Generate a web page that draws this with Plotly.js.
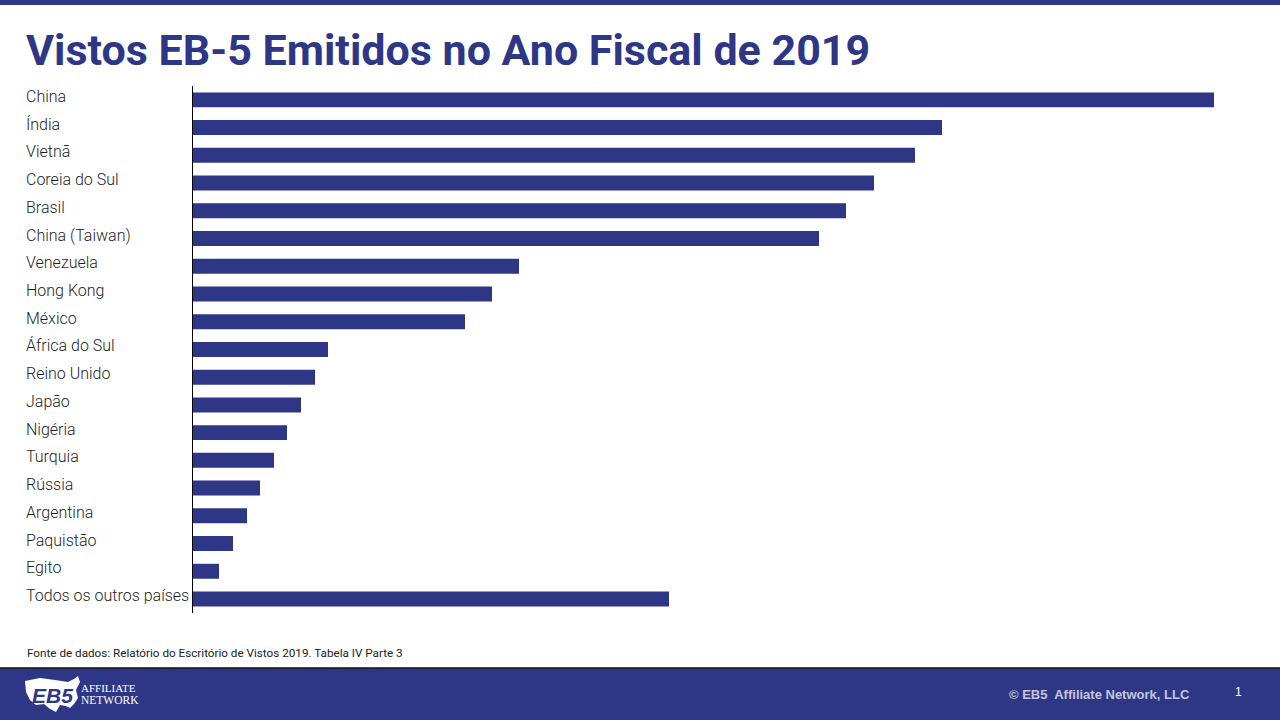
<!DOCTYPE html>
<html>
<head>
<meta charset="utf-8">
<script src="https://cdn.plot.ly/plotly-3.0.1.min.js"></script>
<style>
html,body{margin:0;padding:0;background:#fff;}
#chart{width:1280px;height:720px;}
</style>
</head>
<body>
<div id="chart"></div>
<script>
// Data (relative lengths)
const countries = ["China","Índia","Vietnã","Coreia do Sul","Brasil","China (Taiwan)","Venezuela","Hong Kong","México","África do Sul","Reino Unido","Japão","Nigéria","Turquia","Rússia","Argentina","Paquistão","Egito","Todos os outros países"];
const visas = [1021,749,722,681,653,626,326,299,272,135,122,108,94,81,67,54,40,26,476];
const titleText = "Vistos EB-5 Emitidos no Ano Fiscal de 2019";
const sourceText = "Fonte de dados: Relatório do Escritório de Vistos 2019. Tabela IV Parte 3";
const footerText = "© EB5  Affiliate Network, LLC";
const pageNum = "1";

const NAVY = "#2d3785";
const W = 1280, H = 720;
const M = {l:193, r:66, t:86, b:107};
const PW = W - M.l - M.r, PH = H - M.t - M.b;
const px = x => (x - M.l) / PW;
const py = y => (H - M.b - y) / PH;

function pathPx(pts){
  return pts.map((p,i)=> (i? "L":"M") + px(p[0]).toFixed(5) + "," + py(p[1]).toFixed(5)).join(" ") + " Z";
}

const usMap = [[25,681],[40,678],[55,680],[68,682],[74,679],[78,676],[80,682],[76,690],[78,698],[74,704],[70,708],[66,706],[60,705],[56,712],[50,709],[44,704],[36,705],[30,700],[26,692]];

const shapes = [
  {type:"rect", xref:"paper", yref:"paper", x0:px(0), x1:px(W), y0:py(5), y1:py(0), fillcolor:NAVY, line:{width:0}, layer:"below"},
  {type:"rect", xref:"paper", yref:"paper", x0:px(0), x1:px(W), y0:py(720), y1:py(668), fillcolor:NAVY, line:{width:0}, layer:"below"},
  {type:"line", xref:"paper", yref:"paper", x0:px(0), x1:px(W), y0:py(668), y1:py(668), line:{color:"#111", width:1.5}},
  {type:"path", xref:"paper", yref:"paper", path:pathPx(usMap), fillcolor:"#ffffff", line:{width:0}}
];

const annotations = countries.map(c => ({
  xref:"paper", yref:"y", x:px(25), y:c, xanchor:"left", yanchor:"middle", yshift:3.5, borderpad:0,
  text:c, showarrow:false, font:{family:"Roboto", size:16, weight:300, color:"#1e1e1e"}
}));

annotations.push(
  {xref:"paper", yref:"paper", x:px(25), y:py(50), xanchor:"left", yanchor:"middle", borderpad:0, text:"<b>"+titleText+"</b>", showarrow:false, font:{family:"Roboto", size:43, color:NAVY}},
  {xref:"paper", yref:"paper", x:px(26), y:py(653), xanchor:"left", yanchor:"middle", borderpad:0, text:sourceText, showarrow:false, font:{family:"Roboto", size:11.7, color:"#222222"}},
  {xref:"paper", yref:"paper", x:px(1191), y:py(694), xanchor:"right", yanchor:"middle", borderpad:0, text:"<b>"+footerText+"</b>", showarrow:false, font:{family:"Liberation Sans", size:13, color:"#c3c6dc"}},
  {xref:"paper", yref:"paper", x:px(1238), y:py(692), xanchor:"center", yanchor:"middle", borderpad:0, text:pageNum, showarrow:false, font:{family:"Liberation Sans", size:12, color:"#ffffff"}},
  {xref:"paper", yref:"paper", x:px(52), y:py(695), xanchor:"center", yanchor:"middle", borderpad:0, text:"<b><i>EB5</i></b>", showarrow:false, font:{family:"Liberation Sans", size:21, color:NAVY}},
  {xref:"paper", yref:"paper", x:px(80), y:py(688), xanchor:"left", yanchor:"middle", borderpad:0, text:"AFFILIATE", showarrow:false, font:{family:"Liberation Serif", size:11, color:"#ffffff"}},
  {xref:"paper", yref:"paper", x:px(80), y:py(700), xanchor:"left", yanchor:"middle", borderpad:0, text:"NETWORK", showarrow:false, font:{family:"Liberation Serif", size:11.5, color:"#ffffff"}}
);

const trace = {
  type:"bar", orientation:"h", x:visas, y:countries,
  marker:{color:NAVY, line:{width:0}}, hoverinfo:"skip"
};

const layout = {
  width:W, height:H, margin:M, showlegend:false,
  paper_bgcolor:"#ffffff", plot_bgcolor:"#ffffff",
  bargap:0.46,
  xaxis:{range:[0,1021], visible:false, fixedrange:true},
  yaxis:{type:"category", categoryorder:"array", categoryarray:countries, autorange:"reversed",
         showline:true, linecolor:"#000000", linewidth:1, showgrid:false, zeroline:false,
         showticklabels:false, ticks:"", fixedrange:true},
  shapes:shapes, annotations:annotations,
  font:{family:"Roboto"}
};

Plotly.newPlot("chart", [trace], layout, {displayModeBar:false, staticPlot:true});
</script>
</body>
</html>
